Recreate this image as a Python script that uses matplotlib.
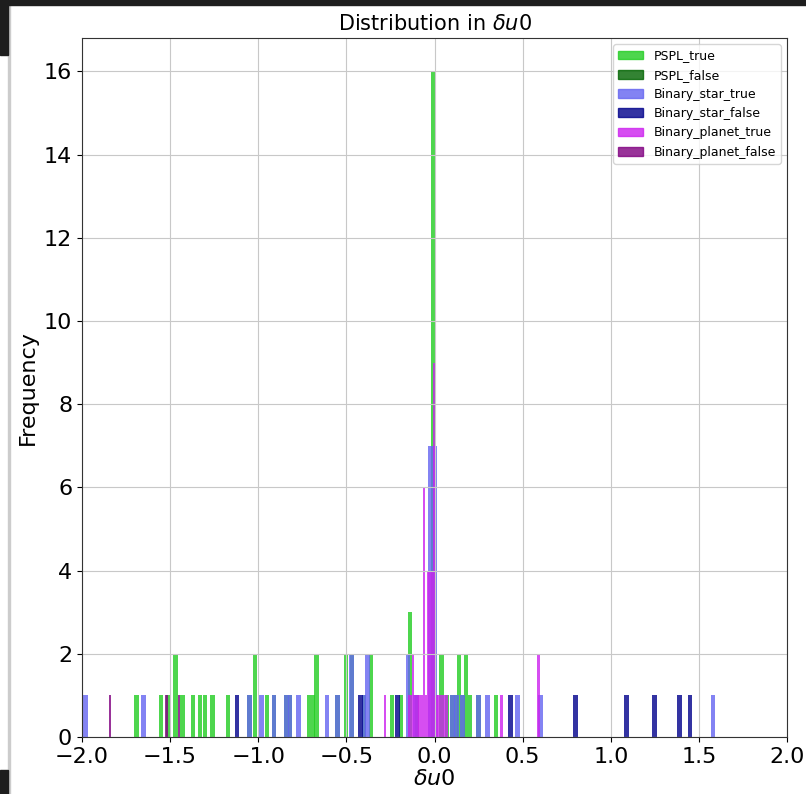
import matplotlib
matplotlib.use("Agg")
import matplotlib.pyplot as plt
import matplotlib.patches as mpatches

# ---------------- data (bin centre, count) ----------------
pspl_true_x = [-1.69, -1.55, -1.51, -1.47, -1.43, -1.37, -1.33, -1.30, -1.26, -1.17,
               -1.05, -1.02, -0.95, -0.91, -0.84, -0.82, -0.71, -0.69, -0.67, -0.55,
               -0.50, -0.47, -0.40, -0.36, -0.24, -0.19, -0.14, -0.10, -0.01, 0.04,
               0.07, 0.10, 0.12, 0.14, 0.16, 0.18, 0.20, 0.25, 0.35]
pspl_true_n = [1, 1, 1, 2, 1, 1, 1, 1, 1, 1,
               1, 2, 1, 1, 1, 1, 1, 1, 2, 1,
               2, 2, 1, 2, 1, 1, 3, 1, 16, 2,
               1, 1, 1, 2, 1, 2, 1, 1, 1]

pspl_false_x = []
pspl_false_n = []

star_true_x = [-1.98, -1.65, -1.05, -0.98, -0.91, -0.84, -0.82, -0.77, -0.61, -0.55,
               -0.47, -0.40, -0.38, -0.15, -0.11, -0.025, 0.0, 0.10, 0.125, 0.16,
               0.25, 0.30, 0.47, 0.60, 1.58]
star_true_n = [1, 1, 1, 1, 1, 1, 1, 1, 1, 1,
               2, 1, 2, 2, 1, 7, 7, 1, 1, 1,
               1, 1, 1, 1, 1]

star_false_x = [-1.12, -0.42, -0.21, 0.43, 0.80, 1.09, 1.25, 1.39, 1.45]
star_false_n = [1, 1, 1, 1, 1, 1, 1, 1, 1]

planet_true_x = [-0.28, -0.145, -0.133, -0.121, -0.109, -0.097, -0.085, -0.073, -0.061,
                 -0.049, -0.037, -0.025, -0.013, -0.001, 0.011, 0.023, 0.035, 0.047,
                 0.059, 0.071, 0.38, 0.59]
planet_true_n = [1, 1, 1, 2, 1, 1, 1, 1, 6,
                 1, 4, 4, 4, 9, 1, 1, 1, 1,
                 1, 1, 1, 2]

planet_false_x = [-1.84, -1.52, -1.45]
planet_false_n = [1, 1, 1]

labels = ["PSPL_true", "PSPL_false", "Binary_star_true", "Binary_star_false",
          "Binary_planet_true", "Binary_planet_false"]
x_ticks = [-2.0, -1.5, -1.0, -0.5, 0.0, 0.5, 1.0, 1.5, 2.0]
y_ticks = [0, 2, 4, 6, 8, 10, 12, 14, 16]

# ---------------- styles ----------------
colors = ["#22cc22", "#006400", "#6464f0", "#00008b", "#cc22ee", "#800080"]
widths = [0.024, 0.024, 0.027, 0.027, 0.013, 0.013]
alpha = 0.8

series = [(pspl_true_x, pspl_true_n), (pspl_false_x, pspl_false_n),
          (star_true_x, star_true_n), (star_false_x, star_false_n),
          (planet_true_x, planet_true_n), (planet_false_x, planet_false_n)]

fig = plt.figure(figsize=(8.06, 7.94), dpi=100)
ax = fig.add_axes([0.1017, 0.0718, 0.8748, 0.8802])

handles = []
for (xs, ns), c, w, lab in zip(series, colors, widths, labels):
    if xs:
        ax.bar(xs, ns, width=w, color=c, alpha=alpha, linewidth=0)
    handles.append(mpatches.Patch(color=c, alpha=alpha, label=lab))

ax.set_xlim(-2.0, 2.0)
ax.set_ylim(0, 16.8)
ax.set_xticks(x_ticks)
ax.set_yticks(y_ticks)
ax.tick_params(labelsize=16)
ax.grid(True, color="#c8c8c8", linewidth=0.8)
for s in ax.spines.values():
    s.set_color("#333333")
ax.set_title(r"Distribution in $\delta u0$", fontsize=15)
ax.set_xlabel(r"$\delta u0$", fontsize=16, labelpad=2)
ax.set_ylabel("Frequency", fontsize=16)
ax.legend(handles=handles, loc="upper right", fontsize=9)

# screenshot frame
fig.patches.append(mpatches.Rectangle((0, 1 - 5 / 794), 1, 5 / 794,
                                      transform=fig.transFigure, color="#1e1e1e", zorder=10))
fig.patches.append(mpatches.Rectangle((0, 1 - 55 / 794), 8 / 806, 55 / 794,
                                      transform=fig.transFigure, color="#1e1e1e", zorder=10))
fig.patches.append(mpatches.Rectangle((0, 0), 8 / 806, 24 / 794,
                                      transform=fig.transFigure, color="#1e1e1e", zorder=10))
fig.patches.append(mpatches.Rectangle((8 / 806, 0), 1.5 / 806, 1,
                                      transform=fig.transFigure, color="#cccccc", zorder=9))

fig.savefig("out.png", dpi=100)
